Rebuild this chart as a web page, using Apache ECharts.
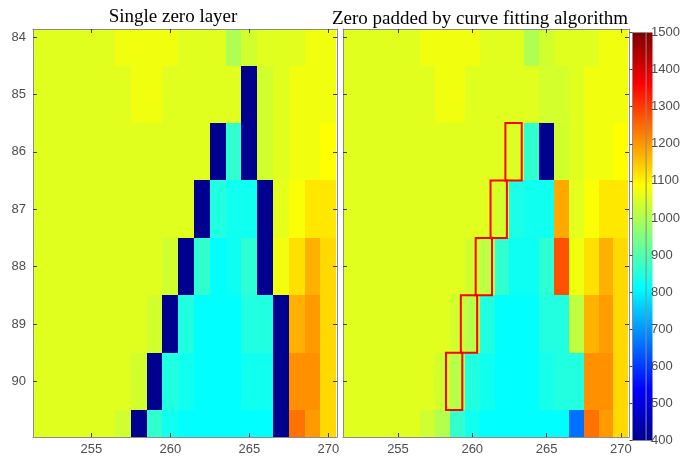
<!DOCTYPE html>
<html>
<head>
<meta charset="utf-8">
<script src="https://cdn.jsdelivr.net/npm/echarts@6.0.0/dist/echarts.min.js"></script>
<style>
  html, body { margin: 0; padding: 0; background: #fff; }
  #main { width: 683px; height: 461px; }
</style>
</head>
<body>
<div id="main"></div>
<script>
// columns (x) and rows (y) of the grid
var xCols = [251, 252, 253, 254, 255, 256, 257, 258, 259, 260, 261, 262, 263, 264, 265, 266, 267, 268, 269, 270];
var yRows = [84, 85, 86, 87, 88, 89, 90, 91];
var xTicks = [255, 260, 265, 270];
var yTicks = [84, 85, 86, 87, 88, 89, 90];

// single zero layer, one row per y
var leftVals = [
    [1055,1055,1055,1055,1055,1055,1072,1072,1072,1072,1055,1055,1055,1000,1038,1055,1055,1055,1072,1072],
    [1055,1055,1055,1055,1055,1055,1055,1072,1072,1055,1055,1055,1055,1055,0,1038,1055,1072,1072,1072],
    [1055,1055,1055,1055,1055,1055,1055,1055,1055,1055,1055,1055,0,864,0,1038,1055,1072,1072,1087],
    [1055,1055,1055,1055,1055,1055,1055,1055,1055,1055,1055,0,847,829,829,0,1058,1082,1112,1112],
    [1055,1055,1055,1055,1055,1055,1055,1055,1055,1038,0,864,812,826,860,0,1072,1120,1173,1129],
    [1055,1055,1055,1055,1055,1055,1055,1055,1038,0,847,812,812,812,847,847,0,1173,1197,1129],
    [1055,1055,1055,1055,1055,1055,1055,1038,0,847,829,812,812,812,829,829,0,1208,1208,1129],
    [1055,1055,1055,1055,1055,1055,1035,0,864,829,812,812,812,812,812,812,0,1241,1197,1129]
];

// zero padded by curve fitting
var rightVals = [
    [1055,1055,1055,1055,1055,1055,1072,1072,1072,1072,1055,1055,1055,1000,1038,1055,1055,1055,1072,1072],
    [1055,1055,1055,1055,1055,1055,1055,1072,1072,1055,1055,1055,1055,1055,1040,1040,1055,1072,1072,1072],
    [1055,1055,1055,1055,1055,1055,1055,1055,1055,1055,1055,1055,1048,864,0,1038,1055,1072,1072,1087],
    [1055,1055,1055,1055,1055,1055,1055,1055,1055,1055,1055,1042,840,829,829,1181,1058,1082,1112,1112],
    [1055,1055,1055,1055,1055,1055,1055,1055,1055,1038,1015,864,826,826,860,1277,1072,1120,1173,1129],
    [1055,1055,1055,1055,1055,1055,1055,1055,1038,1010,847,812,812,812,847,847,1019,1170,1195,1129],
    [1055,1055,1055,1055,1055,1055,1055,1038,1010,847,829,812,812,812,835,847,847,1208,1208,1129],
    [1055,1055,1055,1055,1055,1055,1035,1005,866,829,812,812,812,812,812,812,658,1241,1197,1129]
];

// cells outlined in red (filled by the algorithm)
var boxedCells = [[263, 86], [262, 87], [261, 88], [260, 89], [259, 90]];

var cbarTicks = [400, 1500, 100]; // min, max, step

var X_MIN = 251.3, X_MAX = 270.55;
var Y_MIN = 83.86, Y_MAX = 90.97;
var BOX_SHIFT = -0.22, BOX_HALF = 0.55;

var jet = ['#00008f', '#0000ff', '#0080ff', '#00ffff', '#80ff80', '#ffff00', '#ff8000', '#ff0000', '#800000'];

function toData(vals) {
    var out = [];
    for (var i = 0; i < yRows.length; i++) {
        for (var j = 0; j < xCols.length; j++) {
            out.push([xCols[j], yRows[i], vals[i][j]]);
        }
    }
    return out;
}

function cellRect(api, x0, x1, y0, y1) {
    var p0 = api.coord([x0, y0]);
    var p1 = api.coord([x1, y1]);
    var ax = Math.round(Math.min(p0[0], p1[0])), bx = Math.round(Math.max(p0[0], p1[0]));
    var ay = Math.round(Math.min(p0[1], p1[1])), by = Math.round(Math.max(p0[1], p1[1]));
    return { x: ax, y: ay, width: bx - ax, height: by - ay };
}

function renderCell(params, api) {
    var x = api.value(0), y = api.value(1);
    var shape = cellRect(api,
        Math.max(x - 0.5, X_MIN), Math.min(x + 0.5, X_MAX),
        Math.max(y - 0.5, Y_MIN), Math.min(y + 0.5, Y_MAX));
    return { type: 'rect', shape: shape, style: { fill: api.visual('color') } };
}

function renderBox(params, api) {
    var x = api.value(0) + BOX_SHIFT, y = api.value(1);
    var p0 = api.coord([x - BOX_HALF, y - 0.5]);
    var p1 = api.coord([x + BOX_HALF, y + 0.5]);
    return {
        type: 'rect',
        shape: { x: p0[0], y: p0[1], width: p1[0] - p0[0], height: p1[1] - p0[1] },
        style: { fill: null, stroke: '#ff0000', lineWidth: 2 }
    };
}

function xAxisFor(grid, pos, labels) {
    return {
        type: 'value', gridIndex: grid, position: pos, min: X_MIN, max: X_MAX, z: 10,
        axisLine: { show: true, onZero: false, lineStyle: { color: '#8c8c8c', width: 1 } },
        axisTick: { show: true, inside: true, length: 4, customValues: xTicks, lineStyle: { color: '#3a3a3a' } },
        axisLabel: { show: labels, customValues: xTicks, color: '#4d4d4d', fontSize: 13, fontFamily: 'Liberation Sans', margin: 6 },
        splitLine: { show: false }
    };
}

function yAxisFor(grid, pos, labels) {
    return {
        type: 'value', gridIndex: grid, position: pos, min: Y_MIN, max: Y_MAX, inverse: true, z: 10,
        axisLine: { show: true, onZero: false, lineStyle: { color: '#8c8c8c', width: 1 } },
        axisTick: { show: true, inside: true, length: 4, customValues: yTicks, lineStyle: { color: '#3a3a3a' } },
        axisLabel: { show: labels, customValues: yTicks, color: '#4d4d4d', fontSize: 13, fontFamily: 'Liberation Sans', margin: 7 },
        splitLine: { show: false }
    };
}

// colour bar gradient (jet), bottom to top
var cbarStops = [];
for (var k = 0; k < jet.length; k++) {
    cbarStops.push({ offset: k / (jet.length - 1), color: jet[k] });
}

var myChart = echarts.init(document.getElementById('main'));
var option = {
    animation: false,
    backgroundColor: '#ffffff',
    grid: [
        { left: 33, top: 29, width: 304, height: 408 },
        { left: 343, top: 29, width: 286, height: 408 },
        { left: 632.5, top: 32.5, width: 20, height: 408, show: true, z: 10, borderColor: '#8c8c8c', borderWidth: 1, backgroundColor: 'transparent' }
    ],
    xAxis: [
        xAxisFor(0, 'bottom', true), xAxisFor(0, 'top', false),
        xAxisFor(1, 'bottom', true), xAxisFor(1, 'top', false),
        { type: 'value', gridIndex: 2, show: false, min: 0, max: 1 }
    ],
    yAxis: [
        yAxisFor(0, 'left', true), yAxisFor(0, 'right', false),
        yAxisFor(1, 'left', false), yAxisFor(1, 'right', false),
        {
            type: 'value', gridIndex: 2, position: 'right', z: 11,
            min: cbarTicks[0], max: cbarTicks[1], interval: cbarTicks[2],
            axisLine: { show: false },
            axisTick: { show: true, inside: true, length: 3, lineStyle: { color: '#444' } },
            axisLabel: {
                color: '#4d4d4d', fontSize: 13, fontFamily: 'Liberation Sans', margin: 5,
                formatter: function (v) { return String(v); }
            },
            splitLine: { show: false }
        }
    ],
    visualMap: {
        type: 'continuous', show: false, min: cbarTicks[0], max: cbarTicks[1],
        seriesIndex: [0, 1], dimension: 2,
        inRange: { color: jet },
        outOfRange: { color: '#00008f' }
    },
    graphic: [
        {
            type: 'rect', z: 1,
            shape: { x: 632.5, y: 32.5, width: 20, height: 408 },
            style: { fill: { type: 'linear', x: 0, y: 1, x2: 0, y2: 0, colorStops: cbarStops } }
        },
        { type: 'text', x: 173, y: 7.5, style: { text: 'Single zero layer', font: '19px "Liberation Serif"', fill: '#000', align: 'center', verticalAlign: 'top' } },
        { type: 'text', x: 480, y: 10, style: { text: 'Zero padded by curve fitting algorithm', font: '19px "Liberation Serif"', fill: '#000', align: 'center', verticalAlign: 'top' } }
    ],
    series: [
        { type: 'custom', xAxisIndex: 0, yAxisIndex: 0, renderItem: renderCell, encode: { x: 0, y: 1 }, data: toData(leftVals) },
        { type: 'custom', xAxisIndex: 2, yAxisIndex: 2, renderItem: renderCell, encode: { x: 0, y: 1 }, data: toData(rightVals) },
        { type: 'custom', xAxisIndex: 2, yAxisIndex: 2, renderItem: renderBox, encode: { x: 0, y: 1 }, data: boxedCells, z: 5 }
    ]
};
myChart.setOption(option);
</script>
</body>
</html>
